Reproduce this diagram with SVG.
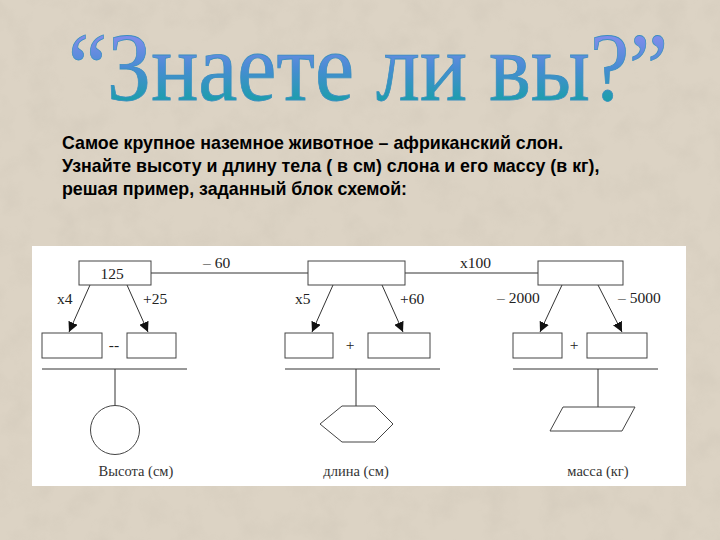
<svg xmlns="http://www.w3.org/2000/svg" width="720" height="540" viewBox="0 0 720 540">
<defs>
<linearGradient id="tg" x1="0" y1="0" x2="0" y2="1">
<stop offset="0.15" stop-color="#8c8cf0"/>
<stop offset="0.5" stop-color="#4a8cd4"/>
<stop offset="0.9" stop-color="#0fa3a0"/>
</linearGradient>
<filter id="noise" x="0" y="0" width="100%" height="100%">
<feTurbulence type="fractalNoise" baseFrequency="0.035" numOctaves="4" seed="7" result="n"/>
<feColorMatrix type="matrix" values="0 0 0 0 0.55  0 0 0 0 0.5  0 0 0 0 0.42  0 0 0 -1.3 0.75" in="n"/>
</filter>
<marker id="ah" viewBox="0 0 10 10" refX="10" refY="5" markerWidth="10" markerHeight="10" markerUnits="userSpaceOnUse" orient="auto">
<path d="M0,0 L10,5 L0,10 z" fill="#111"/>
</marker>
<style>
.box{fill:#fff;stroke:#444;stroke-width:1}
.ln{fill:none;stroke:#333;stroke-width:1}
.lbl{font-family:"Liberation Serif",serif;font-size:15.5px;fill:#222}
.cap{font-family:"Liberation Serif",serif;font-size:14.5px;fill:#333;text-anchor:middle}
.para{font-family:"Liberation Sans",Arial,sans-serif;font-size:17.8px;font-weight:bold;fill:#000}
</style>
</defs>
<rect x="0" y="0" width="720" height="540" fill="#dcd3c4"/>
<rect x="0" y="0" width="720" height="540" filter="url(#noise)" opacity="0.35"/>
<text transform="translate(368,100) scale(0.88,1)" x="0" y="0" text-anchor="middle" font-family="Liberation Serif,serif" font-size="98" fill="url(#tg)" stroke="#3a8fc0" stroke-width="0.8" textLength="682" lengthAdjust="spacingAndGlyphs">“Знаете ли вы?”</text>
<g id="paragraph" class="para">
<text x="62" y="149">Самое крупное наземное животное – африканский слон.</text>
<text x="62" y="172">Узнайте высоту и длину тела ( в см) слона и его массу (в кг),</text>
<text x="62" y="195">решая пример, заданный блок схемой:</text>
</g>
<rect x="32" y="246" width="654" height="240" fill="#fff"/>
<g id="connectors">
<line class="ln" x1="151" y1="273" x2="308" y2="273"/>
<line class="ln" x1="405" y1="273" x2="538" y2="273"/>
<line class="ln" x1="90" y1="285" x2="69" y2="332" marker-end="url(#ah)"/>
<line class="ln" x1="127" y1="285" x2="148" y2="332" marker-end="url(#ah)"/>
<line class="ln" x1="333" y1="285" x2="312" y2="332" marker-end="url(#ah)"/>
<line class="ln" x1="382" y1="285" x2="403" y2="332" marker-end="url(#ah)"/>
<line class="ln" x1="562" y1="285" x2="540" y2="332" marker-end="url(#ah)"/>
<line class="ln" x1="598" y1="285" x2="622" y2="332" marker-end="url(#ah)"/>
<line class="ln" x1="42" y1="369" x2="187" y2="369"/>
<line class="ln" x1="285" y1="369" x2="440" y2="369"/>
<line class="ln" x1="513" y1="369" x2="658" y2="369"/>
<line class="ln" x1="115" y1="369" x2="115" y2="406"/>
<line class="ln" x1="356" y1="369" x2="356" y2="406"/>
<line class="ln" x1="598" y1="369" x2="598" y2="407"/>
<text class="lbl" x="203" y="268">– 60</text>
<text class="lbl" x="460" y="268">x100</text>
<text class="lbl" x="57" y="304">x4</text>
<text class="lbl" x="143" y="304">+25</text>
<text class="lbl" x="295" y="304">x5</text>
<text class="lbl" x="400" y="304">+60</text>
<text class="lbl" x="497" y="303">– 2000</text>
<text class="lbl" x="618" y="303">– 5000</text>
</g>
<g id="n125"><rect class="box" x="79" y="261" width="72" height="24"/><text class="lbl" x="112" y="279" text-anchor="middle" font-size="17.5">125</text></g>
<g id="n2"><rect class="box" x="308" y="261" width="97" height="24"/></g>
<g id="n3"><rect class="box" x="538" y="261" width="85" height="24"/></g>
<g id="a1"><rect class="box" x="42" y="333" width="60" height="25"/></g>
<g id="op1"><text class="lbl" x="114" y="350" text-anchor="middle">--</text></g>
<g id="a2"><rect class="box" x="127" y="333" width="49" height="25"/></g>
<g id="b1"><rect class="box" x="285" y="333" width="48" height="25"/></g>
<g id="op2"><text class="lbl" x="350" y="350" text-anchor="middle">+</text></g>
<g id="b2"><rect class="box" x="368" y="333" width="62" height="25"/></g>
<g id="c1"><rect class="box" x="513" y="333" width="49" height="25"/></g>
<g id="op3"><text class="lbl" x="574" y="350" text-anchor="middle">+</text></g>
<g id="c2"><rect class="box" x="587" y="333" width="60" height="25"/></g>
<g id="height"><circle class="box" cx="115" cy="430" r="24.5"/><text class="cap" x="136" y="476">Высота (см)</text></g>
<g id="length"><polygon class="box" points="342,406 375,406 393,424 375,442 342,442 320,424"/><text class="cap" x="356" y="476">длина (см)</text></g>
<g id="mass"><polygon class="box" points="563,407 635,407 622,431 550,431"/><text class="cap" x="598" y="476">масса (кг)</text></g>
</svg>
